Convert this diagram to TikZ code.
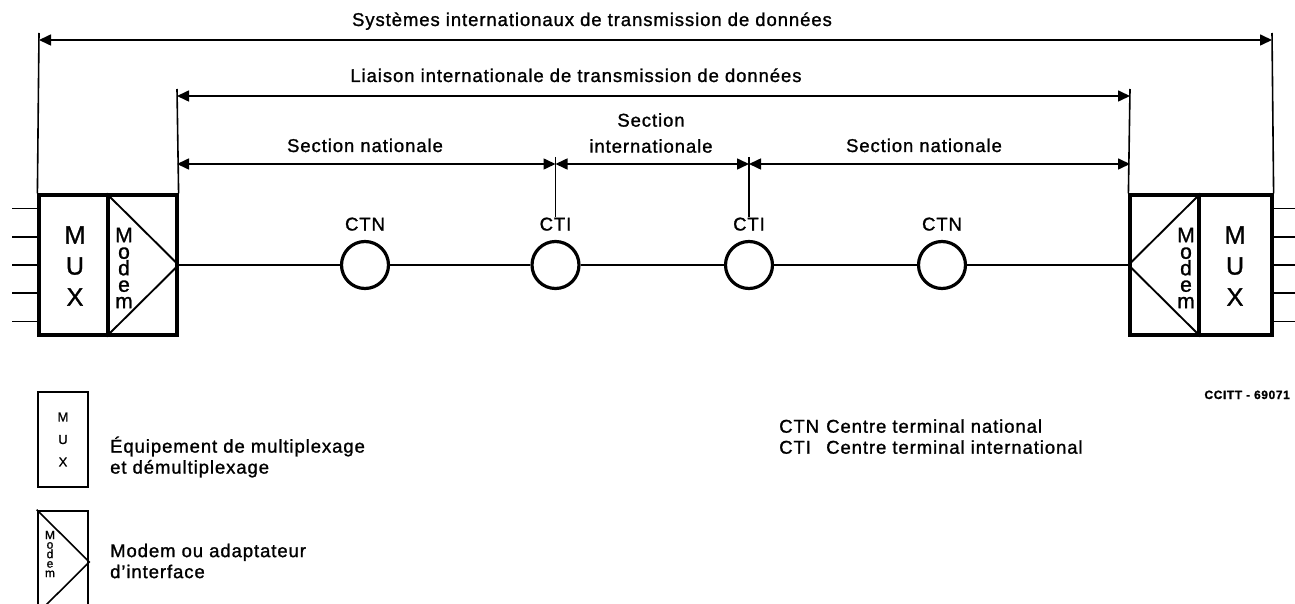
\documentclass[tikz,border=0pt]{standalone}
\usepackage{fontspec}
\setmainfont{Liberation Sans}[LetterSpace=5,FakeBold=1.2]
\usetikzlibrary{arrows.meta,positioning}

\begin{document}
\begin{tikzpicture}[x=1pt,y=-1pt,
  unit/.style={draw,line width=3.2pt,minimum width=69pt,minimum height=140pt,inner sep=0pt},
  keybox/.style={draw,line width=2.6pt,minimum width=50pt,inner sep=0pt},
  centre/.style={draw,circle,line width=3.2pt,minimum size=47pt,inner sep=0pt},
  thin/.style={line width=1.6pt},
  dim/.style={thin,{Triangle[length=12pt,width=11pt]}-{Triangle[length=12pt,width=11pt]}},
  lbl/.style={font=\fontsize{18.5}{21}\selectfont,inner sep=0pt},
  muxtxt/.style={font=\fontsize{25}{31}\selectfont,align=center,inner sep=0pt},
  modtxt/.style={font=\fontsize{21}{16.5}\selectfont,align=center,inner sep=0pt}]
\useasboundingbox (0,0) rectangle (1295,604);
\clip (0,0) rectangle (1295,604);

\node[unit] (muxL) at (73.5,265) {};
\node[unit] (modL) at (142.5,265) {};
\node[unit] (modR) at (1164.5,265) {};
\node[unit,minimum width=73pt] (muxR) at (1235.5,265) {};
\draw[thin,line width=1.9pt] (modL.north west) -- (modL.east) -- (modL.south west);
\draw[thin,line width=1.9pt] (modR.north east) -- (modR.west) -- (modR.south east);
\node[muxtxt] (muxLtxt) at (75,266) {M\\U\\X};
\node[muxtxt] (muxRtxt) at (1235,266) {M\\U\\X};
\node[modtxt] (modLtxt) at (124,268) {M\\o\\d\\e\\m};
\node[modtxt] (modRtxt) at (1186,268) {M\\o\\d\\e\\m};

\foreach \k in {0,...,4} {
  \coordinate (inL\k) at (12,208.5+\k*28.25);
  \coordinate (outR\k) at (1295,208.5+\k*28.25);
  \draw[thin] (inL\k) -- (inL\k -| muxL.west);
  \draw[thin] (outR\k -| muxR.east) -- (outR\k);
}

\node[centre] (ctnA) at (365,265) {};
\node[centre] (ctiA) at (555.5,265) {};
\node[centre] (ctiB) at (749,265) {};
\node[centre] (ctnB) at (942,265) {};
\node[lbl,above=9pt of ctnA] (ctnAtxt) {CTN};
\node[lbl,above=9pt of ctiA] (ctiAtxt) {CTI};
\node[lbl,above=9pt of ctiB] (ctiBtxt) {CTI};
\node[lbl,above=9pt of ctnB] (ctnBtxt) {CTN};
\draw[thin] (modL.east) -- (ctnA) -- (ctiA) -- (ctiB) -- (ctnB) -- (modR.west);

\coordinate (sysL) at (39,40);
\coordinate (sysR) at (1272,40);
\coordinate (liaL) at (177,96);
\coordinate (liaR) at (1130,96);
\coordinate (secL) at (177,164);
\coordinate (secA) at (555.5,164);
\coordinate (secB) at (749,164);
\coordinate (secR) at (1130,164);
\draw[thin] (sysL) ++(0,-7) -- (muxL.north west);
\draw[thin] (sysR) ++(0,-7) -- (muxR.north east);
\draw[thin] (liaL) ++(0,-7) -- (modL.north east);
\draw[thin] (liaR) ++(0,-7) -- (modR.north west);
\draw[thin] (secA) ++(0,-7) -- (ctiAtxt.north -| secA);
\draw[thin] (secB) ++(0,-7) -- (ctiBtxt.north -| secB);
\draw[dim] (sysL) -- (sysR);
\draw[dim] (liaL) -- (liaR);
\draw[dim] (secL) -- (secA);
\draw[dim] (secA) -- (secB);
\draw[dim] (secB) -- (secR);

\node[lbl,anchor=base] (sysTxt) at (592,26) {Systèmes internationaux de transmission de données};
\node[lbl,anchor=base] (liaTxt) at (576,82) {Liaison internationale de transmission de données};
\node[lbl,anchor=base] (natAtxt) at (365,152) {Section nationale};
\node[lbl,anchor=south,align=center,font=\fontsize{18.5}{26}\selectfont] (intTxt) at (651,153) {Section\\internationale};
\node[lbl,anchor=base] (natBtxt) at (924,152) {Section nationale};

% legend
\node[keybox,minimum height=95pt] (muxKey) at (63,439.5) {};
\node[font=\fontsize{13}{22.5}\selectfont,align=center,inner sep=0pt] (muxKeytxt) at (muxKey) {M\\U\\X};
\node[keybox,minimum height=102pt] (modKey) at (63,562) {};
\draw[thin] (modKey.north west) -- (modKey.east) -- (modKey.south west);
\node[font=\fontsize{12}{9.5}\selectfont,align=center,inner sep=0pt] (modKeytxt) at (50,554) {M\\o\\d\\e\\m};
\node[lbl,anchor=west,align=left] (muxKeylbl) at (110,457) {Équipement de multiplexage\\et démultiplexage};
\node[lbl,anchor=west,align=left] (modKeylbl) at (110,561) {Modem ou adaptateur\\d’interface};
\node[lbl,anchor=west] (termKey) at (779,439) {\begin{tabular}{@{}p{47pt}@{}l@{}}CTN & Centre terminal national\\CTI & Centre terminal international\end{tabular}};
\node[font=\fontsize{12}{14}\bfseries\selectfont,anchor=base east,inner sep=0pt] (refTxt) at (1290,399) {CCITT - 69071};
\end{tikzpicture}
\end{document}
